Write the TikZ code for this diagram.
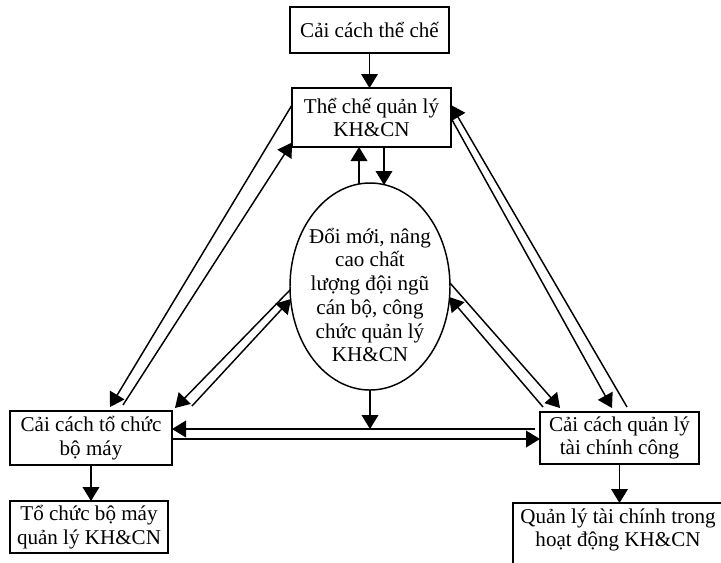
\documentclass[tikz,border=0pt]{standalone}
\usepackage{fontspec}
\setmainfont{Liberation Serif}
\usetikzlibrary{shapes.geometric,arrows.meta,calc}
\begin{document}
\begin{tikzpicture}[x=0.75pt,y=-0.75pt,
  wh/.style 2 args={minimum width=#1*0.75pt,minimum height=#2*0.75pt},
  txt/.style={align=center,inner sep=0pt,outer sep=0pt,font=\fontsize{15.8}{17.8}\selectfont},
  box/.style={txt,draw,line width=1.4pt,rectangle},
  conn/.style={line width=1.1pt},
  arr/.style={conn,-{Triangle[length=10.5pt,width=12.5pt]}},
]
\useasboundingbox (0,0) rectangle (721,562);
\clip (0,0) rectangle (721,562);

\node[box,wh={159}{46}] (top) at (369.5,30) {Cải cách thể chế};
\node[box,wh={159}{59}] (tc) at (371.5,117.5) {Thể chế quản lý\\KH\&CN};
\node[draw,ellipse,line width=1.1pt,inner sep=0pt,outer sep=0pt,wh={160}{207}] (ell) at (370,286.5) {};
\node[txt] (elltext) at (370,295) {Đổi mới, nâng\\cao chất\\lượng đội ngũ\\cán bộ, công\\chức quản lý\\KH\&CN};
\node[box,wh={162}{54}] (lb) at (91,438) {Cải cách tổ chức\\bộ máy};
\node[box,wh={159}{52}] (rb) at (619.5,438) {Cải cách quản lý\\tài chính công};
\node[box,wh={158}{52}] (bl) at (89,527) {Tổ chức bộ máy\\quản lý KH\&CN};
\node[box,wh={217}{77}] (br) at (621.5,541.5) {};
\node[txt] (brtext) at (618,530) {Quản lý tài chính trong\\hoạt động KH\&CN};

% top chain
\draw[arr] (top.south) -- (top.south |- tc.north);
\draw[arr] ($(ell.north)+(-11,1)$) -- ($(tc.south)+(-12.5,0)$);
\draw[arr] ($(tc.south)+(12.5,0)$) -- ($(ell.north)+(14,2)$);

% left outer pair
\draw[arr] ($(tc.west)+(0,-12.5)$) -- ($(lb.north)+(19,-4)$);
\draw[arr] ($(lb.north)+(32,-6)$) -- ($(tc.west)+(0,25)$);

% left inner pair
\draw[arr] ($(ell.west)+(0,3.5)$) -- ($(lb.north east)+(3,-3)$);
\draw[arr] ($(lb.north east)+(20,-5)$) -- ($(ell.west)+(1,12.5)$);

% right outer pair
\draw[arr] ($(tc.east)+(0,0.5)$) -- ($(rb.north)+(-7.5,-4)$);
\draw[arr] ($(rb.north)+(7.5,-5)$) -- ($(tc.east)+(0,-12.5)$);

% right inner pair
\draw[arr] ($(ell.east)+(0,-3.5)$) -- ($(rb.north west)+(20,-4)$);
\draw[arr] ($(rb.north west)+(3,-5)$) -- ($(ell.east)+(-1,10.5)$);

% horizontal pair
\coordinate (hl) at ($(lb.east)+(0,-9)$);
\draw[arr] ($(rb.west)+(-5,-9)$) -- (hl);
\draw[arr] ($(lb.east)+(0,1)$) -- ($(rb.west)+(0,1)$);
\draw[arr] (ell.south) -- (ell.south |- hl);

% bottom
\draw[arr] (lb.south) -- (lb.south |- bl.north);
\draw[arr] (rb.south) -- (rb.south |- br.north);
\end{tikzpicture}
\end{document}
